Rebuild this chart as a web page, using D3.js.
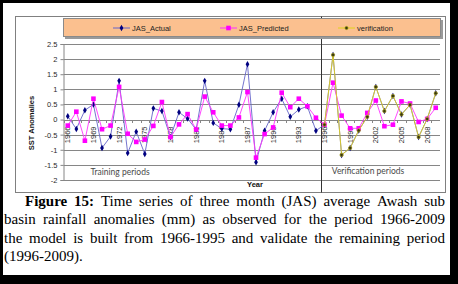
<!DOCTYPE html>
<html>
<head>
<meta charset="utf-8">
<title>JAS rainfall anomalies</title>
<script src="https://cdn.jsdelivr.net/npm/d3@7"></script>
<style>
    body { margin: 0; background: #fff; }
    svg { display: block; }
    .tick-label { font-family: "Liberation Sans", Arial, sans-serif; font-size: 7.5px; fill: #2a2a2a; }
    .axis-title { font-family: "Liberation Sans", Arial, sans-serif; font-size: 7.5px; font-weight: bold; fill: #111; }
    .legend-label { font-family: "Liberation Sans", Arial, sans-serif; font-size: 7.5px; fill: #222; }
    .period-label { font-family: Lato, "Liberation Sans", sans-serif; font-size: 8.5px; fill: #4a4a4a; }
    .caption { font-family: "Liberation Serif", "Times New Roman", serif; font-size: 15px; fill: #000; }
</style>
</head>
<body>
<div id="chart"></div>
<script>
var years = [1966, 1967, 1968, 1969, 1970, 1971, 1972, 1973, 1974, 1975,
             1976, 1977, 1978, 1979, 1980, 1981, 1982, 1983, 1984, 1985,
             1986, 1987, 1988, 1989, 1990, 1991, 1992, 1993, 1994, 1995,
             1996, 1997, 1998, 1999, 2000, 2001, 2002, 2003, 2004, 2005,
             2006, 2007, 2008, 2009];
var tickYears = [1966, 1969, 1972, 1975, 1978, 1981, 1984, 1987, 1990, 1993, 1996, 1999, 2002, 2005, 2008];
var yTicks = [-2, -1.5, -1, -0.5, 0, 0.5, 1, 1.5, 2, 2.5];

var actual = [0.11, -0.31, 0.31, 0.50, -0.94, -0.56, 1.28, -1.11, -0.40, -1.14,
              0.37, 0.28, -0.58, 0.24, 0.03, -0.33, 1.28, -0.11, -0.30, -0.32,
              0.49, 1.83, -1.41, -0.37, 0.24, 0.69, 0.09, 0.33, 0.44, -0.37,
              -0.17, 2.14, -1.17, -0.94, -0.36, 0.09, 1.08, 0.28, 0.78, 0.17,
              0.49, -0.58, 0.02, 0.87];
var predicted = [-0.20, 0.26, -0.70, 0.69, -0.32, -0.20, 1.08, -0.47, -0.74, -0.66,
                 -0.21, 0.58, -0.58, -0.16, 0.18, -0.33, 0.76, 0.24, -0.20, -0.20,
                 0.07, 0.91, -1.26, -0.48, -0.26, 0.89, 0.41, 0.69, 0.44, 0.06,
                 -0.17, 1.22, 0.13, -0.29, -0.29, 0.22, 0.63, -0.22, -0.17, 0.60,
                 0.53, -0.08, 0.02, 0.39];
var verifYears = [1996, 1997, 1998, 1999, 2000, 2001, 2002, 2003, 2004, 2005, 2006, 2007, 2008, 2009];
var verification = [-0.17, 2.14, -1.17, -0.94, -0.36, 0.09, 1.08, 0.28, 0.78, 0.17, 0.49, -0.58, 0.02, 0.87];

var seriesNames = ["JAS_Actual", "JAS_Predicted", "verification"];
var periodLabels = ["Training periods", "Verification periods"];
var captionLines = [
    [{t: "Figure 15:", b: true}, {t: "Time series of three month (JAS) average Awash sub", b: false}],
    [{t: "basin rainfall anomalies (mm) as observed for the period 1966-2009", b: false}],
    [{t: "the model is built from 1966-1995 and validate the remaining period", b: false}],
    [{t: "(1996-2009).", b: false}]
];

var W = 458, H = 284;
var svg = d3.select("#chart").append("svg").attr("width", W).attr("height", H);

// black page border (thicker at right/bottom)
svg.append("rect").attr("width", W).attr("height", H).attr("fill", "#000");
svg.append("rect").attr("x", 3).attr("y", 3).attr("width", 447).attr("height", 272).attr("fill", "#fff");

// chart frame
svg.append("rect").attr("x", 15.5).attr("y", 16.5).attr("width", 430).attr("height", 176)
    .attr("fill", "none").attr("stroke", "#808080");

var x = d3.scaleBand().domain(years).range([63.5, 440]);
var y = d3.scaleLinear().domain([-2, 2.5]).range([180, 44]);
function cx(yr) { return x(yr) + x.bandwidth() / 2; }

// gridlines
svg.append("g").selectAll("line").data(yTicks).enter().append("line")
    .attr("x1", 63.5).attr("x2", 440)
    .attr("y1", function(d) { return Math.round(y(d)) + 0.5; })
    .attr("y2", function(d) { return Math.round(y(d)) + 0.5; })
    .attr("stroke", "#868686").attr("stroke-width", 1);

// y axis
var yAxis = d3.axisLeft(y).tickValues(yTicks).tickSize(3).tickFormat(d3.format("~g"));
var gy = svg.append("g").attr("transform", "translate(63.5,0)").call(yAxis);
gy.select(".domain").attr("stroke", "#868686");
gy.selectAll(".tick line").attr("stroke", "#868686");
gy.selectAll(".tick text").attr("class", "tick-label").attr("x", -6)
    .text(function(d) { return d3.format("~g")(d).replace("\u2212", "-"); });

// x axis at zero
var gx = svg.append("g").attr("transform", "translate(0," + (Math.round(y(0)) + 0.5) + ")");
gx.selectAll("line").data(years).enter().append("line")
    .attr("x1", function(d) { return Math.round(x(d)) + 0.5; })
    .attr("x2", function(d) { return Math.round(x(d)) + 0.5; })
    .attr("y1", 0).attr("y2", 2.5).attr("stroke", "#868686");
gx.selectAll("text").data(tickYears).enter().append("text")
    .attr("class", "tick-label")
    .attr("transform", function(d) { return "translate(" + cx(d) + ",6) rotate(-90)"; })
    .attr("text-anchor", "end").attr("dy", "0.35em")
    .text(function(d) { return d; });

// divider between training and verification
svg.append("line")
    .attr("x1", Math.round(x(1996)) + 1.5).attr("x2", Math.round(x(1996)) + 1.5)
    .attr("y1", 16.5).attr("y2", 192.5).attr("stroke", "#333").attr("stroke-width", 1);

// series
var line = d3.line().x(function(d) { return cx(d[0]); }).y(function(d) { return y(d[1]); });
var actualPts = d3.zip(years, actual);
var predPts = d3.zip(years, predicted);
var verifPts = d3.zip(verifYears, verification);

svg.append("path").datum(actualPts).attr("d", line)
    .attr("fill", "none").attr("stroke", "#6464c8").attr("stroke-width", 0.9);
svg.append("g").selectAll("path").data(actualPts).enter().append("path")
    .attr("d", d3.symbol().type(d3.symbolDiamond).size(12))
    .attr("transform", function(d) { return "translate(" + cx(d[0]) + "," + y(d[1]) + ")"; })
    .attr("fill", "#000080");

svg.append("path").datum(predPts).attr("d", line)
    .attr("fill", "none").attr("stroke", "#ff33ff").attr("stroke-width", 0.9);
svg.append("g").selectAll("rect").data(predPts).enter().append("rect")
    .attr("x", function(d) { return cx(d[0]) - 2.3; })
    .attr("y", function(d) { return y(d[1]) - 2.3; })
    .attr("width", 4.6).attr("height", 4.6).attr("fill", "#ff00ff");

svg.append("path").datum(verifPts).attr("d", line)
    .attr("fill", "none").attr("stroke", "#e0d21a").attr("stroke-width", 0.9);
svg.append("g").selectAll("circle").data(verifPts).enter().append("circle")
    .attr("cx", function(d) { return cx(d[0]); })
    .attr("cy", function(d) { return y(d[1]); })
    .attr("r", 1.7).attr("fill", "#3a3a10").attr("stroke", "#c8bc20").attr("stroke-width", 0.6);

// period labels
svg.append("text").attr("class", "period-label").attr("x", 120).attr("y", 175)
    .attr("text-anchor", "middle").text(periodLabels[0]);
svg.append("text").attr("class", "period-label").attr("x", 368).attr("y", 174)
    .attr("text-anchor", "middle").text(periodLabels[1]);

// axis titles
svg.append("text").attr("class", "axis-title")
    .attr("transform", "translate(34,123) rotate(-90)")
    .attr("text-anchor", "middle").text("SST Anomalies");
svg.append("text").attr("class", "axis-title").attr("x", 255).attr("y", 187)
    .attr("text-anchor", "middle").text("Year");

// legend
svg.append("rect").attr("x", 65).attr("y", 20).attr("width", 378).attr("height", 19).attr("fill", "#9a9a9a");
svg.append("rect").attr("x", 63.5).attr("y", 18.5).attr("width", 377).attr("height", 18)
    .attr("fill", "#fbc08f").attr("stroke", "#8a8a8a").attr("stroke-width", 1);
var legendX = [113, 220, 338];
var legendColors = ["#6464c8", "#ff33ff", "#e0d21a"];
var lg = svg.append("g").selectAll("g").data(seriesNames).enter().append("g")
    .attr("transform", function(d, i) { return "translate(" + legendX[i] + ",28)"; });
lg.append("line").attr("x1", 0).attr("x2", 17).attr("y1", 0).attr("y2", 0)
    .attr("stroke", function(d, i) { return legendColors[i]; });
lg.each(function(d, i) {
    var g = d3.select(this);
    if (i === 0) {
        g.append("path").attr("d", d3.symbol().type(d3.symbolDiamond).size(12))
            .attr("transform", "translate(8.5,0)").attr("fill", "#000080");
    } else if (i === 1) {
        g.append("rect").attr("x", 6.2).attr("y", -2.3).attr("width", 4.6).attr("height", 4.6).attr("fill", "#ff00ff");
    } else {
        g.append("circle").attr("cx", 8.5).attr("cy", 0).attr("r", 1.7)
            .attr("fill", "#3a3a10").attr("stroke", "#c8bc20").attr("stroke-width", 0.6);
    }
});
lg.append("text").attr("class", "legend-label").attr("x", 19).attr("y", 2.7)
    .text(function(d) { return d; });

// caption, justified word by word
var capBase = [206, 224.3, 242.5, 260.7];
var capLeft = [25, 4, 4, 4];
var capRight = 445;
captionLines.forEach(function(segs, li) {
    var words = [];
    segs.forEach(function(s) {
        s.t.split(" ").forEach(function(w) { words.push({t: w, b: s.b}); });
    });
    var tg = svg.append("g");
    var nodes = words.map(function(w) {
        return tg.append("text").attr("class", "caption").attr("y", capBase[li])
            .style("font-weight", w.b ? "bold" : "normal").text(w.t);
    });
    var widths = nodes.map(function(n) { return n.node().getComputedTextLength(); });
    var total = d3.sum(widths);
    var justify = li < captionLines.length - 1;
    var gap = justify ? (capRight - capLeft[li] - total) / (words.length - 1) : 3.75;
    var pos = capLeft[li];
    nodes.forEach(function(n, i) {
        n.attr("x", pos);
        pos += widths[i] + gap;
    });
});
</script>
</body>
</html>
